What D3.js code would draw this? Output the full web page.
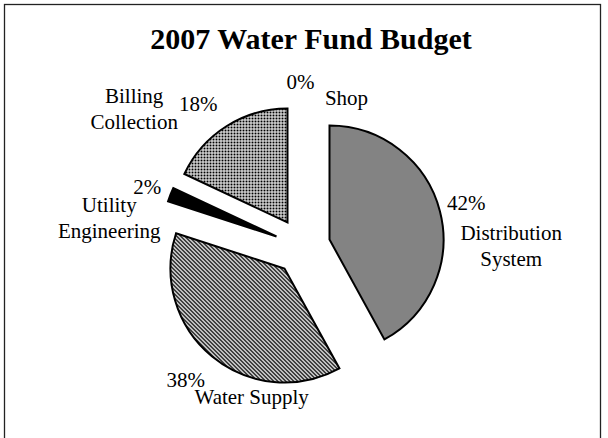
<!DOCTYPE html>
<meta charset="utf-8">
<head>
<style>
body { margin: 0; background: #fff; }
.lbl { font-family: "Liberation Serif", "Times New Roman", serif; font-size: 21px; fill: #000; }
.title { font-family: "Liberation Serif", "Times New Roman", serif; font-size: 30px; font-weight: bold; fill: #000; }
pattern rect { shape-rendering: crispEdges; }
</style>
<script src="https://cdnjs.cloudflare.com/ajax/libs/d3/7.8.5/d3.min.js"></script>
</head>
<body>
<div id="chart"></div>
<script>
// data
var categories = ['Distribution System', 'Water Supply', 'Utility Engineering', 'Billing Collection', 'Shop']
var shares = [42, 38, 2, 18, 0]
var title = '2007 Water Fund Budget'

var width = 608, height = 438
var cx = 302.5, cy = 246.5, radius = 114, explode = 28

var svg = d3.select('#chart').append('svg')
    .attr('width', width)
    .attr('height', height)

// fill patterns, one per slice
var defs = svg.append('defs')

var p1 = defs.append('pattern').attr('id', 'pat0')
    .attr('patternUnits', 'userSpaceOnUse').attr('width', 2).attr('height', 2)
p1.append('rect').attr('width', 2).attr('height', 2).attr('fill', '#747474')
p1.append('rect').attr('width', 1).attr('height', 1).attr('fill', '#b0b0b0')

var p2 = defs.append('pattern').attr('id', 'pat1')
    .attr('patternUnits', 'userSpaceOnUse').attr('width', 4).attr('height', 4)
p2.append('rect').attr('width', 4).attr('height', 4).attr('fill', '#fff')
for (var i = 0; i < 4; i++) {
	p2.append('rect').attr('x', i).attr('y', i).attr('width', 1).attr('height', 1).attr('fill', '#000')
	p2.append('rect').attr('x', (i + 1) % 4).attr('y', i).attr('width', 1).attr('height', 1).attr('fill', '#000')
}

defs.append('pattern').attr('id', 'pat2')
    .attr('patternUnits', 'userSpaceOnUse').attr('width', 4).attr('height', 4)
  .append('rect').attr('width', 4).attr('height', 4).attr('fill', '#000')

var p4 = defs.append('pattern').attr('id', 'pat3')
    .attr('patternUnits', 'userSpaceOnUse').attr('width', 3).attr('height', 3)
p4.append('rect').attr('width', 3).attr('height', 3).attr('fill', '#fff')
p4.append('rect').attr('width', 2).attr('height', 2).attr('fill', '#000')

defs.append('pattern').attr('id', 'pat4')
    .attr('patternUnits', 'userSpaceOnUse').attr('width', 4).attr('height', 4)
  .append('rect').attr('width', 4).attr('height', 4).attr('fill', '#fff')

// chart frame
svg.append('rect')
    .attr('x', 4.5).attr('y', 4.5)
    .attr('width', 596).attr('height', 460)
    .attr('fill', 'none').attr('stroke', '#222').attr('stroke-width', 1.3)

svg.append('text').attr('class', 'title')
    .attr('x', 311).attr('y', 49)
    .attr('text-anchor', 'middle')
    .text(title)

var pie = d3.pie().sort(null).startAngle(0).endAngle(2 * Math.PI)
var arcs = pie(shares)
var arc = d3.arc().innerRadius(0).outerRadius(radius)

var mid = function(d) { return (d.startAngle + d.endAngle) / 2 }
var shift = function(d, k) {
	var a = mid(d)
	return [k * Math.sin(a), -k * Math.cos(a)]
}

var g = svg.append('g').attr('transform', 'translate(' + cx + ',' + cy + ')')

g.selectAll('path.slice')
	.data(arcs.filter(function(d) { return d.value > 0 }))
  .enter().append('path')
	.attr('class', 'slice')
	.attr('d', arc)
	.attr('transform', function(d) { var s = shift(d, explode); return 'translate(' + Math.round(s[0]) + ',' + Math.round(s[1]) + ')' })
	.attr('fill', function(d) { return 'url(#pat' + d.index + ')' })
	.attr('stroke', '#000')
	.attr('stroke-width', 2)
	.attr('stroke-linejoin', 'miter')

// percent labels sit just outside each exploded slice, names were dragged aside
var pctDist = [141, 149, 139, 148, 137]
var pctNudge = [[0, -1], [-4, -3], [0, 2], [-10, 6], [-2, 0]]
var nameOffset = [[45, 43], [66, 17], [-38, 31], [-64, 5], [46, 16]]
var lineGap = 26

arcs.forEach(function(d, i) {
	var s = shift(d, explode + pctDist[i])
	s = [s[0] + pctNudge[i][0], s[1] + pctNudge[i][1]]
	g.append('text').attr('class', 'lbl')
		.attr('x', s[0]).attr('y', s[1] + 7)
		.attr('text-anchor', 'middle')
		.text(d.value + '%')
	var words = (i == 1 || i == 4) ? [categories[i]] : categories[i].split(' ')
	var t = g.append('text').attr('class', 'lbl')
		.attr('text-anchor', 'middle')
		.attr('y', s[1] + nameOffset[i][1] + 7 - (words.length - 1) * lineGap / 2)
	words.forEach(function(w, j) {
		t.append('tspan').attr('x', s[0] + nameOffset[i][0]).attr('dy', j == 0 ? 0 : lineGap).text(w)
	})
})
</script>
</body>
